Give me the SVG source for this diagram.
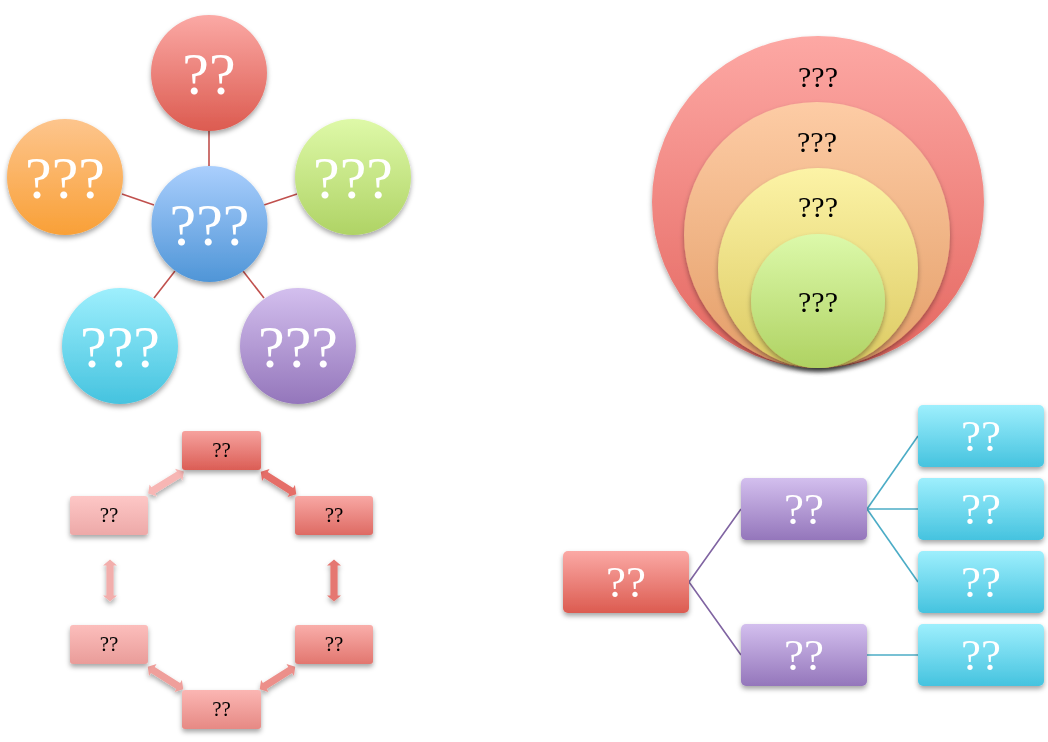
<svg xmlns="http://www.w3.org/2000/svg" width="1048" height="742" viewBox="0 0 1048 742">
<style>
.w{font-family:"Liberation Serif","DejaVu Serif",serif;fill:#ffffff;text-anchor:middle}
.b{font-family:"Liberation Serif","DejaVu Serif",serif;fill:#000000;text-anchor:middle}
.s58{font-size:60px}
.s44{font-size:45px}
.s29{font-size:30px}
.s20{font-size:21px}
</style>
<defs>
<filter id="sh" x="-20%" y="-20%" width="140%" height="150%">
<feDropShadow dx="0" dy="3" stdDeviation="2.5" flood-color="#000" flood-opacity="0.35"/>
</filter>
<linearGradient id="gRed" x1="0" y1="0" x2="0" y2="1"><stop offset="0" stop-color="#fba9a5"/><stop offset="1" stop-color="#dc5b50"/></linearGradient>
<linearGradient id="gBlue" x1="0" y1="0" x2="0" y2="1"><stop offset="0" stop-color="#aacffd"/><stop offset="1" stop-color="#4f95d7"/></linearGradient>
<linearGradient id="gOrange" x1="0" y1="0" x2="0" y2="1"><stop offset="0" stop-color="#fdc58d"/><stop offset="1" stop-color="#f9a037"/></linearGradient>
<linearGradient id="gGreen" x1="0" y1="0" x2="0" y2="1"><stop offset="0" stop-color="#def9a8"/><stop offset="1" stop-color="#afd365"/></linearGradient>
<linearGradient id="gCyan" x1="0" y1="0" x2="0" y2="1"><stop offset="0" stop-color="#9eeffd"/><stop offset="1" stop-color="#45c3df"/></linearGradient>
<linearGradient id="gPurple" x1="0" y1="0" x2="0" y2="1"><stop offset="0" stop-color="#d3bfee"/><stop offset="1" stop-color="#9476bb"/></linearGradient>
<linearGradient id="gC1" x1="0" y1="0" x2="0" y2="1"><stop offset="0" stop-color="#fda8a4"/><stop offset="1" stop-color="#e4665f"/></linearGradient>
<linearGradient id="gC2" x1="0" y1="0" x2="0" y2="1"><stop offset="0" stop-color="#fdcca5"/><stop offset="1" stop-color="#e49e68"/></linearGradient>
<linearGradient id="gC3" x1="0" y1="0" x2="0" y2="1"><stop offset="0" stop-color="#fcf3a6"/><stop offset="1" stop-color="#dcca62"/></linearGradient>
<linearGradient id="gC4" x1="0" y1="0" x2="0" y2="1"><stop offset="0" stop-color="#dcf9aa"/><stop offset="1" stop-color="#afd262"/></linearGradient>
<linearGradient id="gB1" x1="0" y1="0" x2="0" y2="1"><stop offset="0" stop-color="#f6a29e"/><stop offset="1" stop-color="#db5d55"/></linearGradient>
<linearGradient id="gB2" x1="0" y1="0" x2="0" y2="1"><stop offset="0" stop-color="#f8a8a4"/><stop offset="1" stop-color="#de6a63"/></linearGradient>
<linearGradient id="gB3" x1="0" y1="0" x2="0" y2="1"><stop offset="0" stop-color="#f9aeaa"/><stop offset="1" stop-color="#e2766f"/></linearGradient>
<linearGradient id="gB4" x1="0" y1="0" x2="0" y2="1"><stop offset="0" stop-color="#fbb6b3"/><stop offset="1" stop-color="#e68984"/></linearGradient>
<linearGradient id="gB5" x1="0" y1="0" x2="0" y2="1"><stop offset="0" stop-color="#fcbebc"/><stop offset="1" stop-color="#e99c99"/></linearGradient>
<linearGradient id="gB6" x1="0" y1="0" x2="0" y2="1"><stop offset="0" stop-color="#fdc7c6"/><stop offset="1" stop-color="#eda9a8"/></linearGradient>
<polygon id="dbl" points="-21,0 -15,-7 -15,-3.6 15,-3.6 15,-7 21,0 15,7 15,3.6 -15,3.6 -15,7"/>
</defs>

<g id="connectors">
<g stroke="#c0504d" stroke-width="1.6">
<line x1="209" y1="130" x2="209" y2="166"/>
<line x1="122" y1="194" x2="154" y2="205"/>
<line x1="297" y1="194" x2="264" y2="205"/>
<line x1="154" y1="298" x2="175" y2="271"/>
<line x1="264" y1="298" x2="243" y2="271"/>
</g>
<g stroke="#8064a2" stroke-width="1.6" fill="none">
<polyline points="741,509 689,582 741,655"/>
</g>
<g stroke="#4bacc6" stroke-width="1.6" fill="none">
<line x1="867" y1="509" x2="918" y2="436"/>
<line x1="867" y1="509" x2="918" y2="509"/>
<line x1="867" y1="509" x2="918" y2="582"/>
<line x1="867" y1="655" x2="918" y2="655"/>
</g>
<g filter="url(#sh)">
<use href="#dbl" fill="#f7b6b4" transform="translate(166,482.5) rotate(-31.7)"/>
<use href="#dbl" fill="#e56e67" transform="translate(278.5,483) rotate(32.2)"/>
<use href="#dbl" fill="#f2aeac" transform="translate(110,580.5) rotate(90)"/>
<use href="#dbl" fill="#e57771" transform="translate(334,580.5) rotate(90)"/>
<use href="#dbl" fill="#ef9f9b" transform="translate(165.5,678) rotate(32.2)"/>
<use href="#dbl" fill="#ec8f8a" transform="translate(277.5,678) rotate(-32.2)"/>
</g>
</g>

<g id="star-top" filter="url(#sh)"><circle cx="209" cy="73" r="58" fill="url(#gRed)"/><text class="w s58" x="209" y="94">??</text></g>
<g id="star-center" filter="url(#sh)"><circle cx="209.5" cy="224" r="58" fill="url(#gBlue)"/><text class="w s58" x="209.5" y="245">???</text></g>
<g id="star-left" filter="url(#sh)"><circle cx="65" cy="177" r="58" fill="url(#gOrange)"/><text class="w s58" x="65" y="198">???</text></g>
<g id="star-right" filter="url(#sh)"><circle cx="353" cy="177" r="58" fill="url(#gGreen)"/><text class="w s58" x="353" y="198">???</text></g>
<g id="star-bl" filter="url(#sh)"><circle cx="120" cy="346" r="58" fill="url(#gCyan)"/><text class="w s58" x="120" y="367">???</text></g>
<g id="star-br" filter="url(#sh)"><circle cx="298" cy="346" r="58" fill="url(#gPurple)"/><text class="w s58" x="298" y="367">???</text></g>

<g id="ring-1" filter="url(#sh)"><circle cx="818" cy="202" r="166" fill="url(#gC1)"/><text class="b s29" x="818" y="87">???</text></g>
<g id="ring-2" filter="url(#sh)"><circle cx="817" cy="235" r="133" fill="url(#gC2)"/><text class="b s29" x="817" y="152">???</text></g>
<g id="ring-3" filter="url(#sh)"><circle cx="818" cy="268" r="100" fill="url(#gC3)"/><text class="b s29" x="818" y="217">???</text></g>
<g id="ring-4" filter="url(#sh)"><circle cx="818" cy="301" r="67" fill="url(#gC4)"/><text class="b s29" x="818" y="312">???</text></g>

<g id="cyc-top" filter="url(#sh)"><rect x="182" y="431" width="79" height="39" rx="3" fill="url(#gB1)"/><text class="b s20" x="221.5" y="457">??</text></g>
<g id="cyc-right-up" filter="url(#sh)"><rect x="295" y="496" width="78" height="39" rx="3" fill="url(#gB2)"/><text class="b s20" x="334" y="522">??</text></g>
<g id="cyc-right-low" filter="url(#sh)"><rect x="295" y="625" width="78" height="39" rx="3" fill="url(#gB3)"/><text class="b s20" x="334" y="651">??</text></g>
<g id="cyc-bottom" filter="url(#sh)"><rect x="182" y="690" width="79" height="39" rx="3" fill="url(#gB4)"/><text class="b s20" x="221.5" y="716">??</text></g>
<g id="cyc-left-low" filter="url(#sh)"><rect x="70" y="625" width="78" height="39" rx="3" fill="url(#gB5)"/><text class="b s20" x="109" y="651">??</text></g>
<g id="cyc-left-up" filter="url(#sh)"><rect x="70" y="496" width="78" height="39" rx="3" fill="url(#gB6)"/><text class="b s20" x="109" y="522">??</text></g>

<g id="tree-root" filter="url(#sh)"><rect x="563" y="551" width="126" height="62" rx="5" fill="url(#gRed)"/><text class="w s44" x="626" y="597">??</text></g>
<g id="tree-p1" filter="url(#sh)"><rect x="741" y="478" width="126" height="62" rx="5" fill="url(#gPurple)"/><text class="w s44" x="804" y="524">??</text></g>
<g id="tree-p2" filter="url(#sh)"><rect x="741" y="624" width="126" height="62" rx="5" fill="url(#gPurple)"/><text class="w s44" x="804" y="670">??</text></g>
<g id="tree-c1" filter="url(#sh)"><rect x="918" y="405" width="126" height="62" rx="5" fill="url(#gCyan)"/><text class="w s44" x="981" y="451">??</text></g>
<g id="tree-c2" filter="url(#sh)"><rect x="918" y="478" width="126" height="62" rx="5" fill="url(#gCyan)"/><text class="w s44" x="981" y="524">??</text></g>
<g id="tree-c3" filter="url(#sh)"><rect x="918" y="551" width="126" height="62" rx="5" fill="url(#gCyan)"/><text class="w s44" x="981" y="597">??</text></g>
<g id="tree-c4" filter="url(#sh)"><rect x="918" y="624" width="126" height="62" rx="5" fill="url(#gCyan)"/><text class="w s44" x="981" y="670">??</text></g>
</svg>
